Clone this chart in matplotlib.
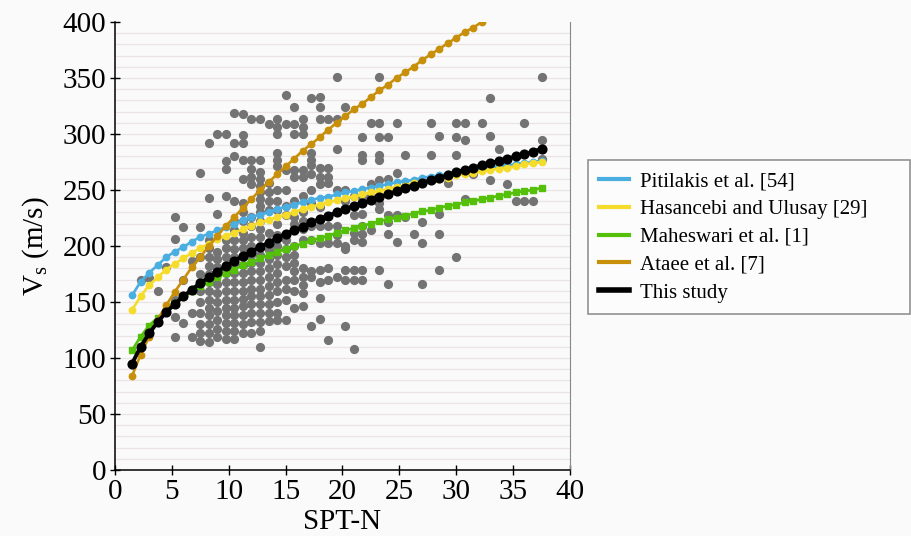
import matplotlib
matplotlib.use('Agg')
import matplotlib.pyplot as plt
from matplotlib.lines import Line2D

plt.rcParams['font.family'] = ['Liberation Serif', 'DejaVu Serif']
plt.rcParams['mathtext.fontset'] = 'custom'
plt.rcParams['mathtext.rm'] = 'Liberation Serif'

# SPT-N grid used for the correlation curves
curve_n = [1.5, 2.25, 3.0, 3.75, 4.5, 5.25, 6.0, 6.75, 7.5, 8.25, 9.0, 9.75, 10.5,
           11.25, 12.0, 12.75, 13.5, 14.25, 15.0, 15.75, 16.5, 17.25, 18.0, 18.75,
           19.5, 20.25, 21.0, 21.75, 22.5, 23.25, 24.0, 24.75, 25.5, 26.25, 27.0,
           27.75, 28.5, 29.25, 30.0, 30.75, 31.5, 32.25, 33.0, 33.75, 34.5, 35.25,
           36.0, 36.75, 37.5]

pitilakis = [156, 168, 176, 183, 190, 195, 199, 204, 208, 211, 214, 217, 220, 223,
             226, 228, 230, 233, 235, 237, 239, 241, 243, 244, 246, 248, 249, 251,
             252, 254, 255, 257, 258, 259, 261, 262, 263, 264, 266, 267, 268, 269,
             270, 271, 272, 273, 274, 275, 276]
hasancebi = [143, 155, 165, 172, 179, 184, 189, 194, 198, 202, 206, 209, 212, 215,
             218, 221, 223, 226, 228, 230, 233, 235, 237, 239, 241, 243, 244, 246,
             248, 249, 251, 253, 254, 256, 257, 259, 260, 261, 263, 264, 265, 267,
             268, 269, 270, 271, 273, 274, 275]
maheswari = [107, 119, 129, 136, 143, 149, 155, 160, 164, 168, 172, 176, 179, 183,
             186, 189, 192, 195, 197, 200, 202, 205, 207, 209, 212, 214, 216, 218,
             220, 222, 224, 225, 227, 229, 231, 232, 234, 236, 237, 239, 240, 242,
             243, 245, 246, 248, 249, 250, 252]
ataee = [84, 103, 119, 134, 147, 159, 170, 181, 190, 200, 209, 218, 226, 234, 242,
         250, 257, 264, 271, 278, 285, 291, 297, 304, 310, 316, 322, 327, 333, 339,
         344, 350, 355, 360, 366, 371, 376, 381, 386, 391, 395, 400, 405, 410, 414,
         419, 423, 428, 432]
this_study = [95, 110, 122, 132, 141, 148, 155, 161, 167, 172, 177, 182, 187, 191,
              195, 199, 203, 207, 211, 214, 217, 221, 224, 227, 230, 233, 236, 238,
              241, 244, 246, 249, 252, 254, 256, 259, 261, 263, 266, 268, 270, 272,
              274, 276, 278, 280, 282, 284, 287]

# measured data: one SPT-N value per column, Vs values in that column
data_n = [2.25, 3.0, 3.75, 4.5, 5.25, 6.0, 6.75, 7.5, 8.25, 9.0, 9.75, 10.5, 11.25,
          12.0, 12.75, 13.5, 14.25, 15.0, 15.75, 16.5, 17.25, 18.0, 18.75, 19.5,
          20.25, 21.0, 21.75, 22.5, 23.25, 24.0, 24.75, 25.5, 26.25, 27.0, 27.75,
          28.5, 29.25, 30.0, 30.75, 31.5, 32.25, 33.0, 33.75, 34.5, 35.25, 36.0,
          36.75, 37.5]
data_vs = [
    [170], [171], [160], [181],
    [226, 206, 152, 137, 119],
    [217, 170, 155, 131],
    [187, 140, 119],
    [265, 217, 190, 175, 168, 160, 150, 140, 130, 122, 115],
    [292, 243, 205, 198, 190, 182, 175, 168, 160, 152, 145, 138, 130, 122, 114],
    [300, 229, 195, 188, 181, 174, 166, 158, 150, 142, 134, 126, 119],
    [300, 276, 269, 245, 205, 198, 190, 183, 176, 168, 160, 152, 145, 138, 131, 124, 117],
    [319, 292, 280, 240, 222, 214, 205, 197, 190, 183, 176, 168, 160, 152, 145, 138,
     131, 124, 117],
    [318, 299, 292, 277, 260, 238, 230, 222, 212, 205, 198, 190, 183, 176, 168, 160,
     153, 146, 138, 130, 122],
    [313, 277, 269, 262, 255, 226, 218, 208, 200, 192, 185, 178, 170, 162, 155, 148,
     140, 132, 122],
    [313, 277, 266, 260, 254, 248, 242, 236, 230, 222, 215, 208, 200, 192, 185, 178,
     170, 162, 155, 148, 140, 132, 124, 110],
    [309, 256, 248, 240, 232, 212, 204, 196, 188, 180, 172, 164, 156, 148, 140, 133],
    [313, 306, 300, 283, 277, 271, 250, 240, 232, 220, 210, 200, 192, 184, 176, 168,
     160, 150, 140, 134],
    [335, 309, 268, 250, 236, 228, 205, 197, 190, 182, 170, 162, 152, 134],
    [324, 309, 300, 268, 262, 240, 226, 220, 200, 192, 185, 178, 170, 160, 145],
    [313, 306, 300, 268, 262, 245, 230, 222, 215, 205, 180, 172, 165, 158, 146],
    [332, 283, 277, 272, 264, 250, 238, 218, 205, 178, 172, 129],
    [333, 324, 313, 270, 262, 255, 235, 218, 203, 179, 168, 154, 135],
    [313, 270, 262, 256, 218, 203, 180, 170, 116],
    [351, 313, 287, 250, 218, 210, 203, 172],
    [324, 250, 240, 200, 197, 179, 170, 129],
    [245, 228, 212, 205, 179, 170, 108],
    [297, 281, 277, 244, 229, 218, 211, 204, 179, 170],
    [310, 255, 245, 214],
    [351, 310, 297, 281, 277, 259, 238, 233, 179],
    [297, 260, 228, 221, 211, 166],
    [310, 265, 228, 204],
    [281, 226],
    [211],
    [221, 203, 166],
    [310, 281],
    [298, 229, 211, 179],
    [256],
    [310, 297, 281, 190],
    [310, 295, 242],
    [264],
    [310],
    [332, 298, 259],
    [287],
    [255],
    [240],
    [310, 240],
    [240],
    [351, 295, 278],
]

labels = ['Pitilakis et al. [54]', 'Hasancebi and Ulusay [29]', 'Maheswari et al. [1]',
          'Ataee et al. [7]', 'This study']
colors = ['#4aaee0', '#f5dc2a', '#55c00a', '#c8900a', '#000000']

pts_n = [n for n, col in zip(data_n, data_vs) for v in col]
pts_vs = [v for col in data_vs for v in col]

fig = plt.figure(figsize=(9.12, 5.36), dpi=100, facecolor='#fafafa')
ax = fig.add_axes([115 / 912, 1 - 470 / 536, 455 / 912, 448 / 536])
ax.set_facecolor('#fafafa')

# light horizontal grid every 10 m/s
for y in range(10, 400, 10):
    ax.axhline(y, color='#ebe3e5', lw=0.9, zorder=0)

ax.scatter(pts_n, pts_vs, s=44, color='#737373', linewidths=0, zorder=2)

ax.plot(curve_n, pitilakis, color=colors[0], lw=1.9, marker='o', ms=4.6, zorder=3)
ax.plot(curve_n, hasancebi, color=colors[1], lw=1.9, marker='o', ms=4.6, zorder=3)
ax.plot(curve_n, maheswari, color=colors[2], lw=1.9, marker='s', ms=4.6, zorder=3)
ax.plot(curve_n, ataee, color=colors[3], lw=1.9, marker='o', ms=4.6, zorder=3)
ax.plot(curve_n, this_study, color=colors[4], lw=2.8, marker='o', ms=6.3, zorder=4)

ax.set_xlim(0, 40)
ax.set_ylim(0, 400)
ax.set_xticks(range(0, 41, 5))
ax.set_yticks(range(0, 401, 50))
ax.tick_params(direction='inout', length=7, width=1, labelsize=21, pad=3)
ax.spines['top'].set_visible(False)
ax.spines['right'].set_color('#888888')
ax.spines['left'].set_linewidth(1.1)
ax.spines['bottom'].set_linewidth(1.1)

ax.set_xlabel('SPT-N', fontsize=21, labelpad=3)
ax.set_ylabel('V$_\\mathregular{s}$ (m/s)', fontsize=21, labelpad=8)

handles = [Line2D([], [], color=c, lw=3 if c != '#000000' else 4) for c in colors]
leg = fig.legend(handles, labels, loc='upper left',
                 bbox_to_anchor=(588 / 912, 0, 322 / 912, 1 - 160 / 536), mode='expand',
                 borderaxespad=0, fontsize=15, frameon=True, fancybox=False,
                 handlelength=1.4, handletextpad=0.55, labelspacing=0.4, borderpad=0.55)
leg.get_frame().set_edgecolor('#777777')
leg.get_frame().set_facecolor('#fdfdfd')
leg.get_frame().set_linewidth(1.2)

fig.savefig('out.png', dpi=100, facecolor=fig.get_facecolor())
